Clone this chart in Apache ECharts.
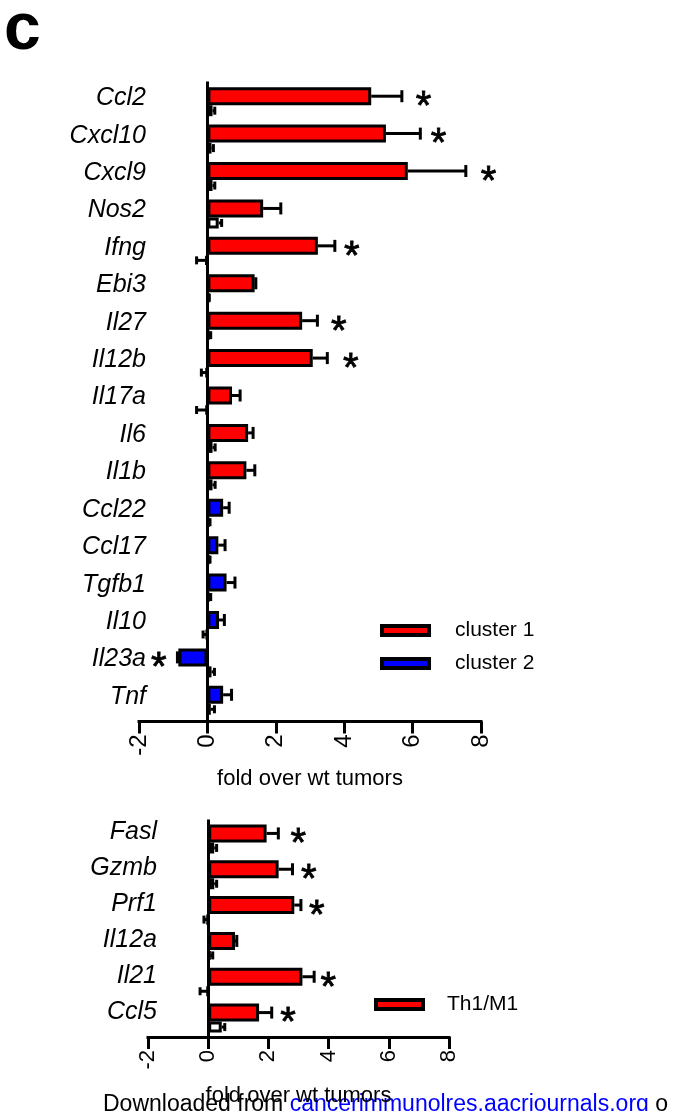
<!DOCTYPE html>
<html>
<head>
<meta charset="utf-8">
<script src="https://cdn.jsdelivr.net/npm/echarts@6/dist/echarts.min.js"></script>
<style>
html,body{margin:0;padding:0;background:#fff;}
#chart{width:677px;height:1111px;}
</style>
</head>
<body>
<div id="chart"></div>
<script>
// ---------- data ----------
const topCats = ['Ccl2','Cxcl10','Cxcl9','Nos2','Ifng','Ebi3','Il27','Il12b','Il17a','Il6','Il1b','Ccl22','Ccl17','Tgfb1','Il10','Il23a','Tnf'];
const topCluster = [1,1,1,1,1,1,1,1,1,1,1,2,2,2,2,2,2];
const topMain    = [4.79,5.22,5.86,1.63,3.23,1.38,2.77,3.08,0.72,1.19,1.14,0.46,0.32,0.56,0.34,-0.85,0.46];
const topMainErr = [5.73,6.27,7.60,2.19,3.77,1.46,3.26,3.55,1.00,1.38,1.43,0.68,0.56,0.85,0.54,-0.92,0.75];
const topCtrl    = [0.15,0.12,0.15,0.33,-0.05,0.05,0.05,-0.04,-0.04,0.15,0.15,0.05,0.05,0.05,-0.03,0.12,0.10];
const topCtrlErr = [0.26,0.22,0.26,0.46,-0.36,0.10,0.14,-0.22,-0.36,0.27,0.27,0.12,0.12,0.14,-0.17,0.25,0.25];
const topStars   = [6.32,6.76,8.22,null,4.22,null,3.84,4.19,null,null,null,null,null,null,null,-1.42,null];

const botCats = ['Fasl','Gzmb','Prf1','Il12a','Il21','Ccl5'];
const botMain    = [1.94,2.34,2.86,0.89,3.13,1.69];
const botMainErr = [2.38,2.85,3.13,1.00,3.57,2.16];
const botCtrl    = [0.20,0.20,-0.03,0.08,-0.03,0.45];
const botCtrlErr = [0.33,0.33,-0.19,0.20,-0.32,0.60];
const botStars   = [2.99,3.34,3.61,null,3.99,2.65];

const xTicks = {min:-2, max:8, interval:2};
const axisTitle = 'fold over wt tumors';

// ---------- styling ----------
const FONT = '"Liberation Sans", Arial, Helvetica, sans-serif';
const MAIN_W = 18, CTRL_W = 11, BORDER = 3;
const TOTAL_W = MAIN_W + CTRL_W;
const MAIN_OFF = -TOTAL_W/2 + MAIN_W/2;
const CTRL_OFF = -TOTAL_W/2 + MAIN_W + CTRL_W/2;
const RED = '#ff0000', BLUE = '#0000ff';

function errRender(off, capHalf){
  return function(params, api){
    const idx = api.value(1);
    const a = api.coord([api.value(2), idx]);
    const b = api.coord([api.value(0), idx]);
    const y = a[1] + off;
    const dir = b[0] >= a[0] ? 1 : -1;
    const xe = b[0] - dir*1.5;
    return {type:'group', children:[
      {type:'line', shape:{x1:a[0], y1:y, x2:xe, y2:y}, style:{stroke:'#000', lineWidth:3}},
      {type:'line', shape:{x1:xe, y1:y-capHalf, x2:xe, y2:y+capHalf}, style:{stroke:'#000', lineWidth:3}}
    ]};
  };
}
const STAR_SIZE = 40;
function starRender(params, api){
  const p = api.coord([api.value(0), api.value(1)]);
  return {type:'text', style:{text:'*', x:p[0], y:p[1] + MAIN_OFF + 2.5 + 0.233*STAR_SIZE,
    align:'center', verticalAlign:'middle', font: STAR_SIZE+'px '+FONT, fill:'#000', stroke:'#000', lineWidth:0.8}};
}
function errData(vals, errs){ return vals.map((v,i)=>[errs[i], i, v]); }
function starData(s){ return s.map((v,i)=> v==null ? null : [v,i]).filter(d=>d); }

function xAxisCfg(gridIndex, offset, labelSize, nameGap){
  return {
    gridIndex, type:'value', min:xTicks.min, max:xTicks.max, interval:xTicks.interval,
    offset, splitLine:{show:false},
    axisLine:{show:true, onZero:false, lineStyle:{color:'#000', width:3, cap:'square'}},
    axisTick:{show:true, length:12, lineStyle:{color:'#000', width:3}},
    axisLabel:{rotate:90, margin:13, color:'#000', fontSize:labelSize, fontFamily:FONT},
    name:axisTitle, nameLocation:'middle', nameGap,
    nameTextStyle:{color:'#000', fontSize:22, fontFamily:FONT}
  };
}
// label raised above band centre: verticalAlign bottom with a small lineHeight
function yAxisCfg(gridIndex, cats, margin, lift){
  return {
    gridIndex, type:'category', data:cats, inverse:true,
    axisLine:{show:true, onZero:true, lineStyle:{color:'#000', width:3, cap:'square'}},
    axisTick:{show:false}, splitLine:{show:false},
    axisLabel:{margin, color:'#000', fontSize:25, fontStyle:'italic', fontFamily:FONT,
      verticalAlign:'bottom', lineHeight:lift*2}
  };
}
const barBase = {type:'bar', barGap:'0%'};

const chart = echarts.init(document.getElementById('chart'), null, {renderer:'canvas'});
chart.setOption({
  animation:false,
  backgroundColor:'#fff',
  grid:[
    {left:139, width:342, top:83, height:636},
    {left:148, width:301, top:821, height:215}
  ],
  xAxis:[ xAxisCfg(0, 2.5, 24, 46), xAxisCfg(1, 1, 22, 48) ],
  yAxis:[ yAxisCfg(0, topCats, -7, 3.5), yAxisCfg(1, botCats, -9, 6.5) ],
  legend:[
    {left:380, top:620, orient:'vertical', padding:0, itemGap:12, itemWidth:47, itemHeight:9,
     icon:'rect', selectedMode:false, data:['cluster 1','cluster 2'],
     itemStyle:{borderColor:'#000', borderWidth:4},
     textStyle:{color:'#000', fontSize:21, fontFamily:FONT, padding:[0,0,0,21]}},
    {left:374, top:994, orient:'vertical', padding:0, itemWidth:47, itemHeight:9,
     icon:'rect', selectedMode:false, data:['Th1/M1'],
     itemStyle:{borderColor:'#000', borderWidth:4},
     textStyle:{color:'#000', fontSize:21, fontFamily:FONT, padding:[0,0,0,19]}}
  ],
  graphic:[
    {type:'text', style:{text:'c', x:4, y:31, verticalAlign:'middle', font:'bold 66px '+FONT, fill:'#000'}},
    {type:'text', style:{text:'{a|Downloaded from }{b|cancerimmunolres.aacrjournals.org}{a| o}', x:103, y:1104.5,
      verticalAlign:'middle', font:'23px '+FONT,
      rich:{a:{fill:'#000', fontSize:23, fontFamily:FONT}, b:{fill:'#0000ff', fontSize:23, fontFamily:FONT}}}}
  ],
  series:[
    Object.assign({}, barBase, {name:'cluster 1', xAxisIndex:0, yAxisIndex:0, stack:'main', barWidth:MAIN_W,
      color:RED, itemStyle:{color:RED, borderColor:'#000', borderWidth:BORDER},
      data: topMain.map((v,i)=> topCluster[i]===1 ? v : '-')}),
    Object.assign({}, barBase, {name:'cluster 2', xAxisIndex:0, yAxisIndex:0, stack:'main', barWidth:MAIN_W,
      color:BLUE, itemStyle:{color:BLUE, borderColor:'#000', borderWidth:BORDER},
      data: topMain.map((v,i)=> topCluster[i]===2 ? v : '-')}),
    Object.assign({}, barBase, {name:'wt', xAxisIndex:0, yAxisIndex:0, barWidth:CTRL_W,
      itemStyle:{color:'#fff', borderColor:'#000', borderWidth:BORDER}, data: topCtrl}),
    {type:'custom', name:'errMainTop', xAxisIndex:0, yAxisIndex:0, renderItem:errRender(MAIN_OFF,6), encode:{x:[0,2], y:1}, data:errData(topMain, topMainErr), z:3, clip:false},
    {type:'custom', name:'errCtrlTop', xAxisIndex:0, yAxisIndex:0, renderItem:errRender(CTRL_OFF,4), encode:{x:[0,2], y:1}, data:errData(topCtrl, topCtrlErr), z:3, clip:false},
    {type:'custom', name:'starsTop', xAxisIndex:0, yAxisIndex:0, renderItem:starRender, encode:{x:0, y:1}, data:starData(topStars), z:4, clip:false},

    Object.assign({}, barBase, {name:'Th1/M1', xAxisIndex:1, yAxisIndex:1, barWidth:MAIN_W,
      color:RED, itemStyle:{color:RED, borderColor:'#000', borderWidth:BORDER}, data: botMain}),
    Object.assign({}, barBase, {name:'wt2', xAxisIndex:1, yAxisIndex:1, barWidth:CTRL_W,
      itemStyle:{color:'#fff', borderColor:'#000', borderWidth:BORDER}, data: botCtrl}),
    {type:'custom', name:'errMainBot', xAxisIndex:1, yAxisIndex:1, renderItem:errRender(MAIN_OFF,6), encode:{x:[0,2], y:1}, data:errData(botMain, botMainErr), z:3, clip:false},
    {type:'custom', name:'errCtrlBot', xAxisIndex:1, yAxisIndex:1, renderItem:errRender(CTRL_OFF,4), encode:{x:[0,2], y:1}, data:errData(botCtrl, botCtrlErr), z:3, clip:false},
    {type:'custom', name:'starsBot', xAxisIndex:1, yAxisIndex:1, renderItem:starRender, encode:{x:0, y:1}, data:starData(botStars), z:4, clip:false}
  ]
});
</script>
</body>
</html>
